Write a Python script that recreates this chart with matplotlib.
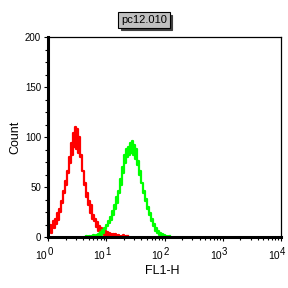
import matplotlib
matplotlib.use("Agg")
import matplotlib.pyplot as plt
import numpy as np

plt.rcParams['font.family'] = ['Liberation Sans', 'DejaVu Sans']

# histogram channels: 58 channels per decade, 4 decades
ch_per_decade = 58
title = 'pc12.010'
xlabel = 'FL1-H'
ylabel = 'Count'

red_first = 0
red_counts = [16, 6, 12, 4, 10, 16, 9, 18, 13, 24, 17, 28, 25, 36, 34, 46, 44, 56, 52, 66,
              64, 80, 74, 94, 82, 104, 90, 110, 88, 108, 84, 100, 80, 82, 66, 66, 52, 54, 40, 44,
              32, 36, 24, 32, 18, 22, 16, 18, 10, 15, 6, 11, 4, 9, 3, 8, 2, 6, 1, 5,
              2, 4, 0, 3, 1, 3, 0, 3, 1, 0, 2, 1, 0, 1, 0, 2, 0, 0, 1, 0, 1]

green_first = 37
green_counts = [0, 1, 0, 0, 1, 0, 1, 0, 2, 1, 0, 2, 1, 3, 1, 5, 2, 7, 4, 9,
                8, 12, 11, 16, 14, 20, 17, 26, 22, 32, 28, 40, 34, 46, 44, 58, 52, 70, 64, 82,
                74, 88, 80, 90, 82, 94, 84, 96, 82, 92, 78, 88, 72, 76, 62, 66, 54, 54, 44, 46,
                36, 38, 28, 30, 22, 24, 16, 18, 11, 13, 6, 9, 4, 6, 2, 4, 1, 3, 1, 2,
                0, 1, 0, 0, 1]

xticks = [1, 10, 100, 1000, 10000]
xtick_exponents = ['0', '1', '2', '3', '4']
yticks = [0, 50, 100, 150, 200]


def channel_x(first, n):
    ch = np.arange(first, first + n)
    return 10 ** (ch / ch_per_decade)


fig = plt.figure(figsize=(2.88, 2.88), dpi=100)
ax = fig.add_axes([48 / 288, 51 / 288, 233 / 288, 200 / 288])

ax.step(channel_x(red_first, len(red_counts)), red_counts, where='mid',
        color='#ff0000', lw=1.6)
ax.step(channel_x(green_first, len(green_counts)), green_counts, where='mid',
        color='#00ff00', lw=1.6)

ax.set_xscale('log')
ax.set_xlim(1, 10000)
ax.set_ylim(0, 200)
ax.set_xticks(xticks, labels=[''] * len(xticks))
ax.set_yticks(yticks)
ax.set_yticks(np.arange(0, 201, 12.5), minor=True)
ax.tick_params(axis='both', which='major', labelsize=7, length=3, width=0.8, pad=2)
ax.tick_params(axis='both', which='minor', length=2, width=0.8)

# "10" with a same-size raised exponent, like the original software draws it
trans = ax.get_xaxis_transform()
for xv, ex in zip(xticks, xtick_exponents):
    ax.annotate('10', (xv, 0), xycoords=trans, xytext=(-1, -14), textcoords='offset points',
                ha='right', va='center', fontsize=7.5, annotation_clip=False)
    ax.annotate(ex, (xv, 0), xycoords=trans, xytext=(-0.5, -10.5), textcoords='offset points',
                ha='left', va='center', fontsize=7, annotation_clip=False)

for side in ['left', 'bottom']:
    ax.spines[side].set_linewidth(2.2)
for side in ['top', 'right']:
    ax.spines[side].set_linewidth(0.9)

ax.set_xlabel(xlabel, fontsize=9, va='center')
ax.xaxis.set_label_coords(0.49, -0.17)
ax.set_ylabel(ylabel, fontsize=9, va='center')
ax.yaxis.set_label_coords(-0.14, 0.5)

# title box with drop shadow
shadow_dx = 2.5 / 288
fig.text(0.5 + shadow_dx, 1 - 20 / 288 - shadow_dx, title, ha='center', va='center',
         fontsize=8, color='#404040',
         bbox=dict(boxstyle='square,pad=0.25', fc='#404040', ec='#404040', lw=0.8))
fig.text(0.5, 1 - 20 / 288, title, ha='center', va='center', fontsize=8, color='black',
         bbox=dict(boxstyle='square,pad=0.25', fc='#c0c0c0', ec='black', lw=0.8))

fig.savefig('out.png', dpi=100)
